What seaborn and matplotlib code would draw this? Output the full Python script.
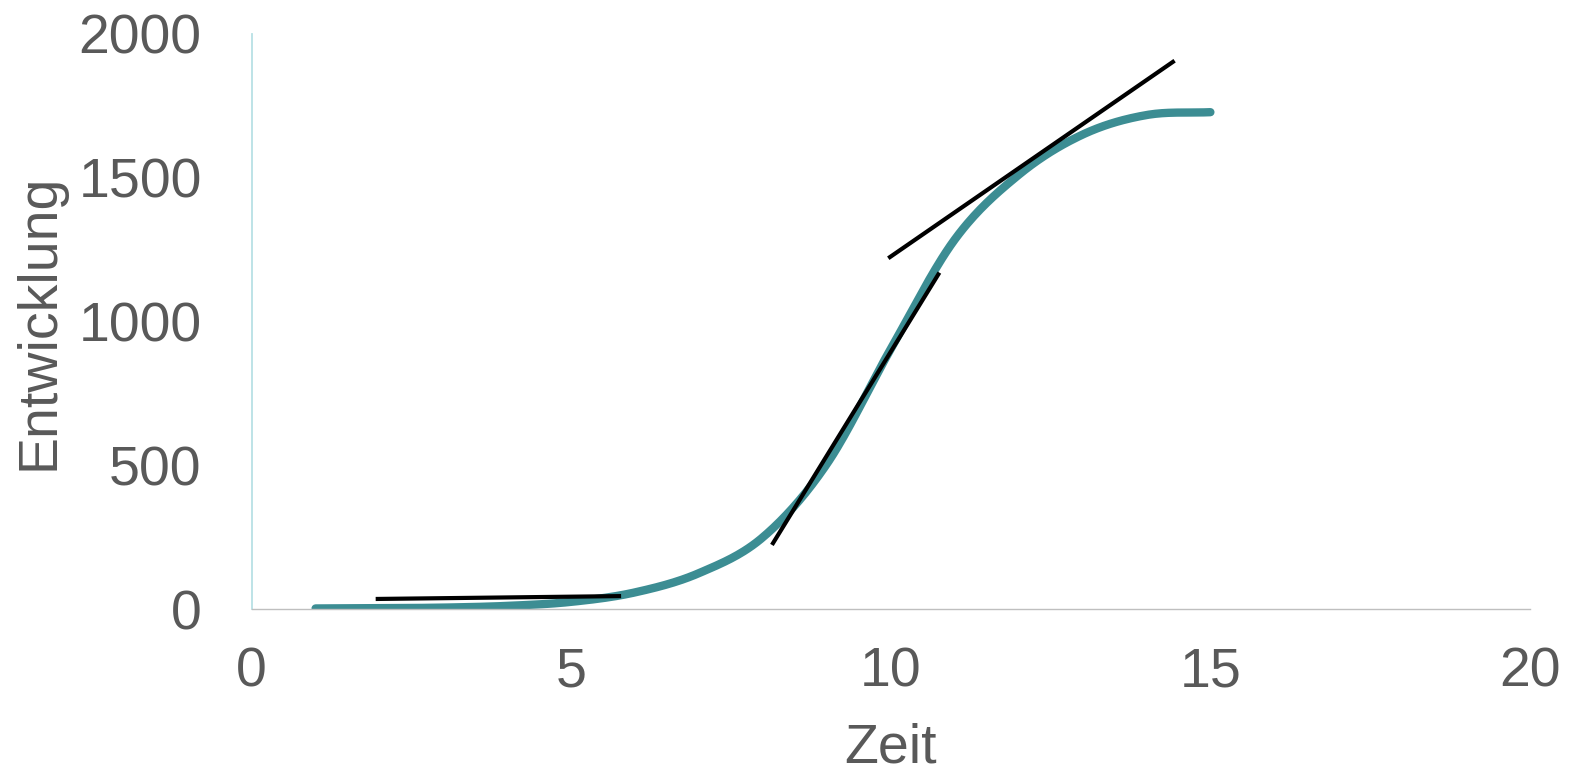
import numpy as np
import pandas as pd
import matplotlib
matplotlib.use("Agg")
import matplotlib.pyplot as plt
import seaborn as sns

# ---- data ----
zeit = [1, 2, 3, 4, 5, 6, 7, 8, 9, 10, 11, 12, 13, 14, 15]
entwicklung = [2, 3, 5, 11, 25, 58, 125, 250, 505, 905, 1285, 1510, 1650, 1718, 1728]

# tangent segments (x0, x1), (y0, y1)
tan1_x = [1.94, 5.78]
tan1_y = [35, 45]
tan2_x = [8.14, 10.76]
tan2_y = [223, 1170]
tan3_x = [9.96, 14.44]
tan3_y = [1220, 1907]

x_ticks = [0, 5, 10, 15, 20]
y_ticks = [0, 500, 1000, 1500, 2000]


def smooth(xs, ys, n=30):
    """Catmull-Rom style smoothing (like a spreadsheet 'smoothed line')."""
    xs = np.asarray(xs, float)
    ys = np.asarray(ys, float)
    px = np.concatenate([[2 * xs[0] - xs[1]], xs, [2 * xs[-1] - xs[-2]]])
    py = np.concatenate([[2 * ys[0] - ys[1]], ys, [2 * ys[-1] - ys[-2]]])
    ox, oy = [], []
    for i in range(1, len(px) - 2):
        p0 = np.array([px[i - 1], py[i - 1]])
        p1 = np.array([px[i], py[i]])
        p2 = np.array([px[i + 1], py[i + 1]])
        p3 = np.array([px[i + 2], py[i + 2]])
        c1 = p1 + (p2 - p0) / 6.0
        c2 = p2 - (p3 - p1) / 6.0
        t = np.linspace(0, 1, n, endpoint=(i == len(px) - 3))
        b = ((1 - t) ** 3)[:, None] * p1 + (3 * (1 - t) ** 2 * t)[:, None] * c1 \
            + (3 * (1 - t) * t ** 2)[:, None] * c2 + (t ** 3)[:, None] * p2
        ox.extend(b[:, 0])
        oy.extend(b[:, 1])
    return np.array(ox), np.array(oy)


sx, sy = smooth(zeit, entwicklung)
curve = pd.DataFrame({"Zeit": sx, "Entwicklung": sy})

sns.set_theme(style="white")
plt.rcParams["font.family"] = ["Liberation Sans", "DejaVu Sans"]

fig = plt.figure(figsize=(15.75, 7.72), dpi=100)
ax = fig.add_axes([0.1598, 0.2111, 0.9714 - 0.1598, 0.956 - 0.2111])

sns.lineplot(data=curve, x="Zeit", y="Entwicklung", ax=ax, color="#3C8D93",
             linewidth=6, solid_capstyle="round", sort=False)
for tx, ty in [(tan1_x, tan1_y), (tan2_x, tan2_y), (tan3_x, tan3_y)]:
    sns.lineplot(x=tx, y=ty, ax=ax, color="black", linewidth=3,
                 solid_capstyle="butt")

ax.set_xlim(0, 20)
ax.set_ylim(0, 2000)
ax.set_xticks(x_ticks)
ax.set_yticks(y_ticks)
ax.tick_params(axis="both", length=0, labelsize=40, labelcolor="#595959")
ax.tick_params(axis="y", pad=36)
ax.tick_params(axis="x", pad=27)

ax.set_xlabel("Zeit", fontsize=40, color="#595959", labelpad=17)
ax.set_ylabel("Entwicklung", fontsize=40, color="#595959", labelpad=9)

for s in ["top", "right"]:
    ax.spines[s].set_visible(False)
ax.spines["left"].set_color("#B8E1E5")
ax.spines["left"].set_linewidth(1.3)
ax.spines["bottom"].set_color("#BFBFBF")
ax.spines["bottom"].set_linewidth(1.0)
ax.grid(False)

fig.savefig("out.png", dpi=100)
